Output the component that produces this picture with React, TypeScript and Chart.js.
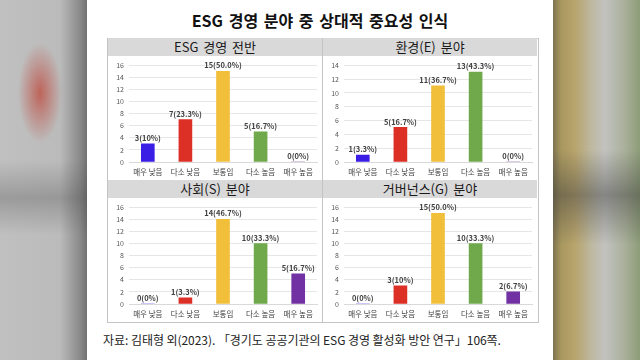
import React, { useEffect, useRef } from "react";
import { Chart, registerables } from "chart.js";

Chart.register(...registerables);

const TITLE = "ESG 경영 분야 중 상대적 중요성 인식";
const SOURCE = "자료: 김태형 외(2023). 「경기도 공공기관의 ESG 경영 활성화 방안 연구」106쪽.";

const categories = ["매우 낮음", "다소 낮음", "보통임", "다소 높음", "매우 높음"];
const barColors = ["#3a1ee6", "#dc2f26", "#f2bf3a", "#70a94b", "#7131a3"];

const overallValues = [3, 7, 15, 5, 0];
const overallLabels = ["3(10%)", "7(23.3%)", "15(50.0%)", "5(16.7%)", "0(0%)"];

const envValues = [1, 5, 11, 13, 0];
const envLabels = ["1(3.3%)", "5(16.7%)", "11(36.7%)", "13(43.3%)", "0(0%)"];

const socialValues = [0, 1, 14, 10, 5];
const socialLabels = ["0(0%)", "1(3.3%)", "14(46.7%)", "10(33.3%)", "5(16.7%)"];

const govValues = [0, 3, 15, 10, 2];
const govLabels = ["0(0%)", "3(10%)", "15(50.0%)", "10(33.3%)", "2(6.7%)"];

const panelTitles = ["ESG 경영 전반", "환경(E) 분야", "사회(S) 분야", "거버넌스(G) 분야"];
const panelMax = [16, 14, 16, 16];

const FONT = '"Noto Sans CJK KR", "Noto Sans", sans-serif';

type PanelProps = {
  values: number[];
  labels: string[];
  max: number;
  left: number;
  top: number;
  width: number;
  height: number;
  padTop: number;
  padRight: number;
};

function BarPanel(p: PanelProps) {
  const ref = useRef<HTMLCanvasElement | null>(null);
  useEffect(() => {
    if (!ref.current) return;
    const labelPlugin = {
      id: "barLabels",
      afterDatasetsDraw(chart: any) {
        const ctx = chart.ctx;
        const meta = chart.getDatasetMeta(0);
        ctx.save();
        ctx.font = `bold 7.5px ${FONT}`;
        ctx.fillStyle = "#404040";
        ctx.textAlign = "center";
        ctx.textBaseline = "bottom";
        meta.data.forEach((el: any, i: number) => {
          ctx.fillText(p.labels[i], el.x, el.y - 2);
        });
        ctx.restore();
      },
    };
    const chart = new Chart(ref.current, {
      type: "bar",
      data: {
        labels: categories,
        datasets: [
          {
            data: p.values,
            backgroundColor: barColors,
            borderWidth: 0,
            barThickness: 13,
          },
        ],
      },
      options: {
        animation: false,
        responsive: false,
        devicePixelRatio: 1,
        layout: { padding: { top: p.padTop, right: p.padRight, left: 0, bottom: 0 } },
        plugins: {
          legend: { display: false },
          tooltip: { enabled: false },
        },
        scales: {
          x: {
            grid: { display: false, drawTicks: false },
            border: { display: true, color: "#d9d9d9" },
            ticks: {
              padding: 6,
              color: "#404040",
              font: { family: FONT, size: 7.5 },
              maxRotation: 0,
              autoSkip: false,
            },
            afterFit: (s: any) => {
              s.height = 18;
            },
          },
          y: {
            min: 0,
            max: p.max,
            grid: { color: "#e6e6e6", drawTicks: false },
            border: { display: false },
            ticks: {
              stepSize: 2,
              padding: 5,
              color: "#595959",
              font: { family: FONT, size: 7 },
            },
            afterFit: (s: any) => {
              s.width = 21;
            },
          },
        },
      },
      plugins: [labelPlugin],
    });
    return () => chart.destroy();
  }, []);
  return (
    <canvas
      ref={ref}
      width={p.width}
      height={p.height}
      style={{ position: "absolute", left: p.left, top: p.top, width: p.width, height: p.height }}
    />
  );
}

const headerStyle = (left: number, top: number, width: number): React.CSSProperties => ({
  position: "absolute",
  left,
  top,
  width,
  height: 18,
  background: "#d9d9d9",
  color: "#1a1a1a",
  fontFamily: FONT,
  fontSize: 13,
  lineHeight: "18px",
  textAlign: "center",
  whiteSpace: "nowrap",
  wordSpacing: 2,
});

export default function App() {
  return (
    <div
      style={{
        position: "fixed",
        left: 0,
        top: 0,
        width: 640,
        height: 360,
        overflow: "hidden",
        background: "#bcbcbc",
      }}
    >
      {/* left blurred background */}
      <div
        style={{
          position: "absolute",
          left: 0,
          top: 0,
          width: 88,
          height: 360,
          background:
            "radial-gradient(ellipse 22px 50px at 40px 93px, rgba(190,95,85,0.95), rgba(190,95,85,0) 100%)," +
            "linear-gradient(to bottom, rgba(0,0,0,0) 160px, rgba(70,70,70,0.3) 198px, rgba(0,0,0,0) 235px)," +
            "linear-gradient(to right, #c0c0c0 0px, #bbbbbb 60px, #8a8a8a 80px, #6d6d6d 88px)",
        }}
      />
      {/* right blurred background */}
      <div
        style={{
          position: "absolute",
          left: 553,
          top: 0,
          width: 87,
          height: 360,
          background:
            "linear-gradient(to bottom, rgba(0,0,0,0) 150px, rgba(60,60,60,0.45) 195px, rgba(0,0,0,0) 245px)," +
            "linear-gradient(to right, #7d7250 0px, #a8975f 8px, #b8a46c 22px, #bdb8a0 38px, #c2c2c0 52px, #a9b09a 72px, #8d9c78 87px)",
        }}
      />
      {/* white card */}
      <div style={{ position: "absolute", left: 87, top: 0, width: 466, height: 360, background: "#ffffff" }} />

      <div
        style={{
          position: "absolute",
          left: 87,
          top: 9,
          width: 466,
          textAlign: "center",
          fontFamily: FONT,
          fontWeight: 700,
          fontSize: 16,
          lineHeight: "22px",
          color: "#111",
          wordSpacing: 2,
        }}
      >
        {TITLE}
      </div>

      {/* table frame */}
      <div
        style={{
          position: "absolute",
          left: 107,
          top: 38,
          width: 430,
          height: 283,
          border: "1px solid #c4c4c4",
        }}
      />
      <div style={{ position: "absolute", left: 322, top: 38, width: 1, height: 284, background: "#c4c4c4" }} />

      <div style={headerStyle(108, 38, 214)}>{panelTitles[0]}</div>
      <div style={headerStyle(323, 38, 214)}>{panelTitles[1]}</div>
      <div style={headerStyle(108, 180, 214)}>{panelTitles[2]}</div>
      <div style={headerStyle(323, 180, 214)}>{panelTitles[3]}</div>

      <BarPanel values={overallValues} labels={overallLabels} max={panelMax[0]} left={108} top={56} width={213} height={124} padTop={8} padRight={4} />
      <BarPanel values={envValues} labels={envLabels} max={panelMax[1]} left={323} top={56} width={214} height={124} padTop={8} padRight={5} />
      <BarPanel values={socialValues} labels={socialLabels} max={panelMax[2]} left={108} top={198} width={213} height={124} padTop={9} padRight={4} />
      <BarPanel values={govValues} labels={govLabels} max={panelMax[3]} left={323} top={198} width={214} height={124} padTop={9} padRight={5} />

      <div
        style={{
          position: "absolute",
          left: 103,
          top: 331,
          whiteSpace: "nowrap",
          fontFamily: FONT,
          fontSize: 12,
          lineHeight: "18px",
          color: "#222",
          letterSpacing: -0.05,
        }}
      >
        {SOURCE}
      </div>
    </div>
  );
}
